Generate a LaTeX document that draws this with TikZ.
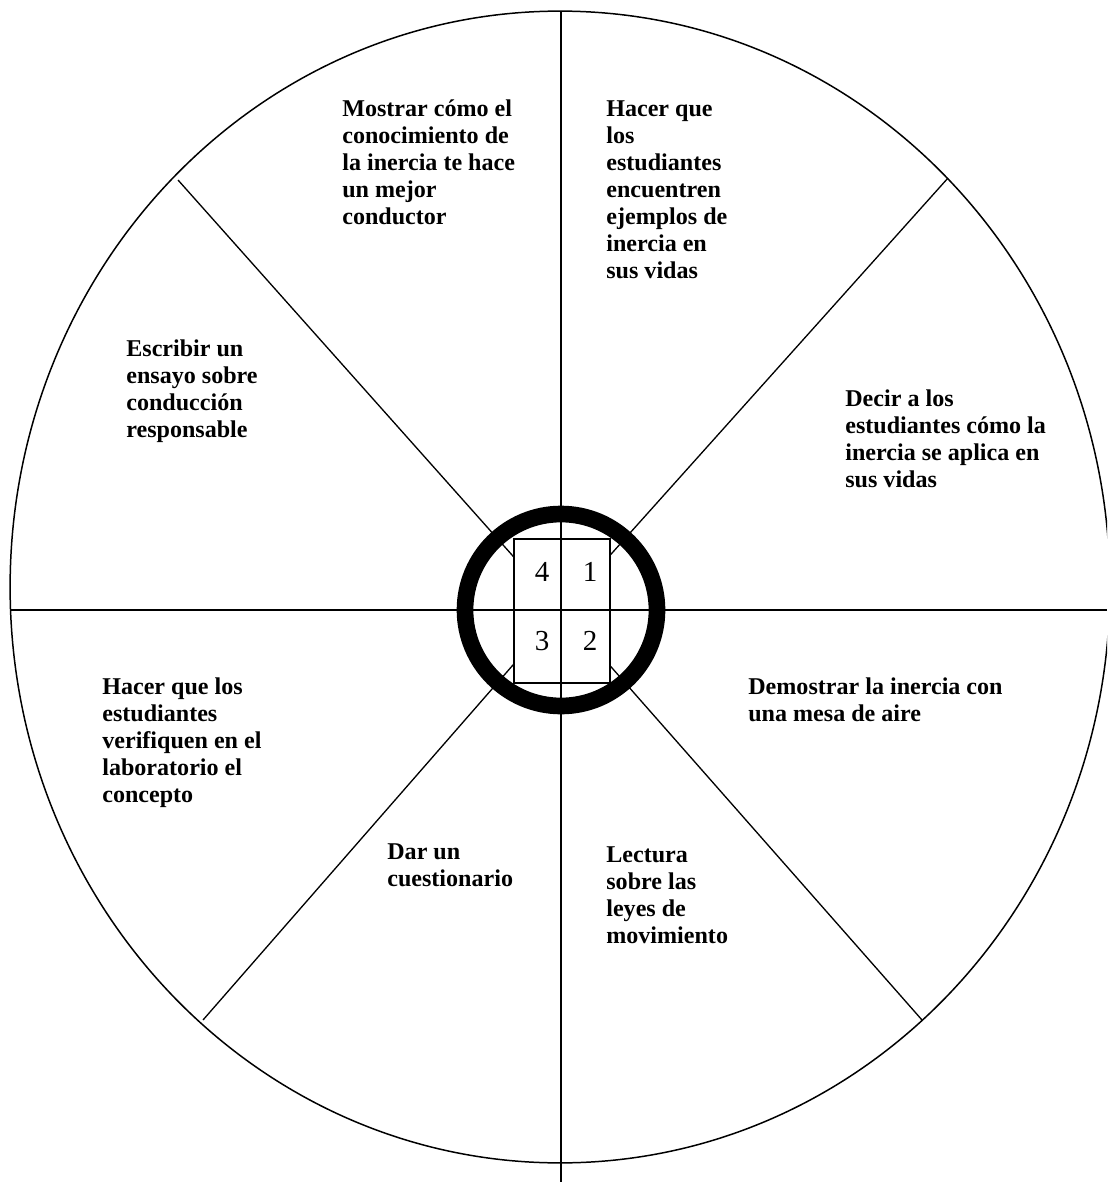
\documentclass[tikz,border=0pt]{standalone}
\usepackage{fontspec}
\setmainfont{Liberation Serif}

\begin{document}
\begin{tikzpicture}[x=0.02cm,y=-0.02cm]
		\tikzstyle{sectortext}=[anchor=north west, inner sep=0pt, align=left, font=\bfseries\fontsize{13.7pt}{15.45pt}\selectfont]
		\tikzstyle{digit}=[inner sep=0pt, font=\fontsize{16.5pt}{18pt}\selectfont]
		\tikzstyle{spoke}=[line width=0.75pt]
		\clip (0,0) rectangle (1107,1182);
		\coordinate (hub) at (561,610);
		\coordinate (n) at (561,11);
		\coordinate (s) at (561,1182);
		\coordinate (w) at (10,610);
		\coordinate (e) at (1107,610);
		\coordinate (ne) at (948,178);
		\coordinate (nw) at (178,180);
		\coordinate (se) at (922,1020);
		\coordinate (sw) at (203,1020);
		\draw[line width=0.85pt] (560,587) ellipse [x radius=11cm, y radius=11.52cm];
		\draw[spoke]{
			(nw)--(hub) (ne)--(hub) (se)--(hub) (sw)--(hub)
		};
		\draw[line width=0.6pt, fill=white] (514,539) rectangle (610,683);
		\draw[spoke]{(n)--(s) (w)--(e)};
		\draw[line width=9.5pt] (hub) circle (1.92cm);
		\node[digit] (q4) at (542,572) {4};
		\node[digit] (q1) at (590,572) {1};
		\node[digit] (q3) at (542,641) {3};
		\node[digit] (q2) at (590,641) {2};
		\node[sectortext] (mostrar) at (342,99) {Mostrar cómo el\\conocimiento de\\la inercia te hace\\un mejor\\conductor};
		\node[sectortext] (hacer) at (606,100) {Hacer que\\los\\estudiantes\\encuentren\\ejemplos de\\inercia en\\sus vidas};
		\node[sectortext] (escribir) at (126,339) {Escribir un\\ensayo sobre\\conducción\\responsable};
		\node[sectortext] (decir) at (845,389) {Decir a los\\estudiantes cómo la\\inercia se aplica en\\sus vidas};
		\node[sectortext] (demostrar) at (748,677) {Demostrar la inercia con\\una mesa de aire};
		\node[sectortext] (verificar) at (102,677) {Hacer que los\\estudiantes\\verifiquen en el\\laboratorio el\\concepto};
		\node[sectortext] (dar) at (387,843) {Dar un\\cuestionario};
		\node[sectortext] (lectura) at (606,846) {Lectura\\sobre las\\leyes de\\movimiento};
	\end{tikzpicture}
\end{document}
